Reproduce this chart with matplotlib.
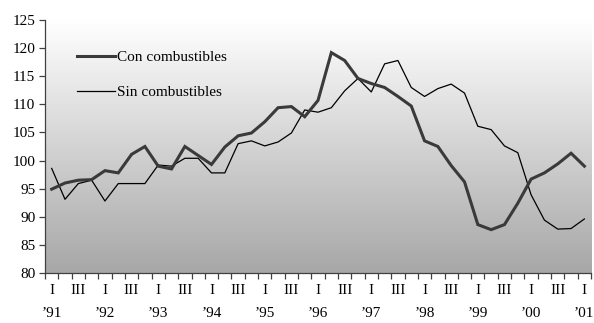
import numpy as np
import matplotlib
matplotlib.use("Agg")
import matplotlib.pyplot as plt

# Quarterly index, I-1991 .. I-2001
years = ["’91", "’92", "’93", "’94", "’95", "’96", "’97", "’98", "’99", "’00", "’01"]
quarters = ["I", "II", "III", "IV"]

con_combustibles = [
    94.9, 96.0, 96.5, 96.6,
    98.2, 97.8, 101.1, 102.5,
    99.0, 98.5, 102.5, 100.9,
    99.3, 102.4, 104.4, 104.9,
    106.9, 109.4, 109.6, 107.8,
    110.7, 119.2, 117.8, 114.6,
    113.7, 113.0, 111.4, 109.7,
    103.5, 102.5, 99.1, 96.2,
    88.6, 87.7, 88.6, 92.4,
    96.7, 97.8, 99.4, 101.3,
    99.0,
]
sin_combustibles = [
    98.6, 93.1, 95.9, 96.5,
    92.8, 95.9, 95.9, 95.9,
    99.2, 99.0, 100.4, 100.4,
    97.8, 97.8, 103.0, 103.5,
    102.6, 103.3, 104.9, 109.0,
    108.6, 109.4, 112.4, 114.6,
    112.2, 117.2, 117.8, 113.0,
    111.4, 112.8, 113.6, 112.0,
    106.1, 105.5, 102.6, 101.4,
    93.9, 89.4, 87.8, 87.9,
    89.6,
]

n = len(con_combustibles)
x = np.arange(n)

plt.rcParams["font.family"] = ["Liberation Serif", "DejaVu Serif"]
plt.rcParams["font.size"] = 11

fig = plt.figure(figsize=(5.94, 3.23), dpi=100)
ax = fig.add_axes([0.0758, 0.155, 0.9192, 0.783])

ax.set_xlim(-0.5, n - 0.5)
ax.set_ylim(80, 125)

# vertical white-to-gray gradient behind the plot area
grad = np.linspace(0, 1, 256).reshape(-1, 1)
cmap = matplotlib.colors.LinearSegmentedColormap.from_list("bg", ["#a7a7a7", "#ffffff"])
ax.imshow(grad, aspect="auto", cmap=cmap, origin="lower",
          extent=[-0.5, n - 0.5, 80, 125], zorder=0)

ax.plot(x, con_combustibles, color="#3a3a3a", lw=2.2, solid_joinstyle="miter",
        label="Con combustibles", zorder=3)
ax.plot(x, sin_combustibles, color="#000000", lw=0.9,
        label="Sin combustibles", zorder=2)

# spines
for s in ["top", "right"]:
    ax.spines[s].set_visible(False)
for s in ["left", "bottom"]:
    ax.spines[s].set_color("#404040")
    ax.spines[s].set_linewidth(0.9)

# y axis
ax.set_yticks(np.arange(80, 126, 5))
ax.tick_params(axis="y", direction="out", length=4, width=0.9, color="#404040",
               pad=3, labelsize=11)

# x axis: tick marks at quarter boundaries, labels at every other quarter
ax.set_xticks(np.arange(n + 1) - 0.5)
ax.set_xticklabels([])
ax.tick_params(axis="x", which="major", direction="out", length=4, width=0.9,
               color="#404040")
label_pos = x[::2]
labels = []
for i in label_pos:
    q = quarters[i % 4]
    if q == "I":
        labels.append(q + "\n" + years[i // 4])
    else:
        labels.append(q)
ax.set_xticks(label_pos, minor=True)
ax.set_xticklabels(labels, minor=True)
ax.tick_params(axis="x", which="minor", length=0, pad=8, labelsize=11)
for t in ax.get_xticklabels(minor=True):
    t.set_linespacing(1.95)

leg = ax.legend(loc="upper left", bbox_to_anchor=(0.047, 0.905), frameon=False,
                handlelength=2.5, handletextpad=0.15, labelspacing=1.4,
                fontsize=11, borderaxespad=0)

fig.savefig("out.png", dpi=100)
